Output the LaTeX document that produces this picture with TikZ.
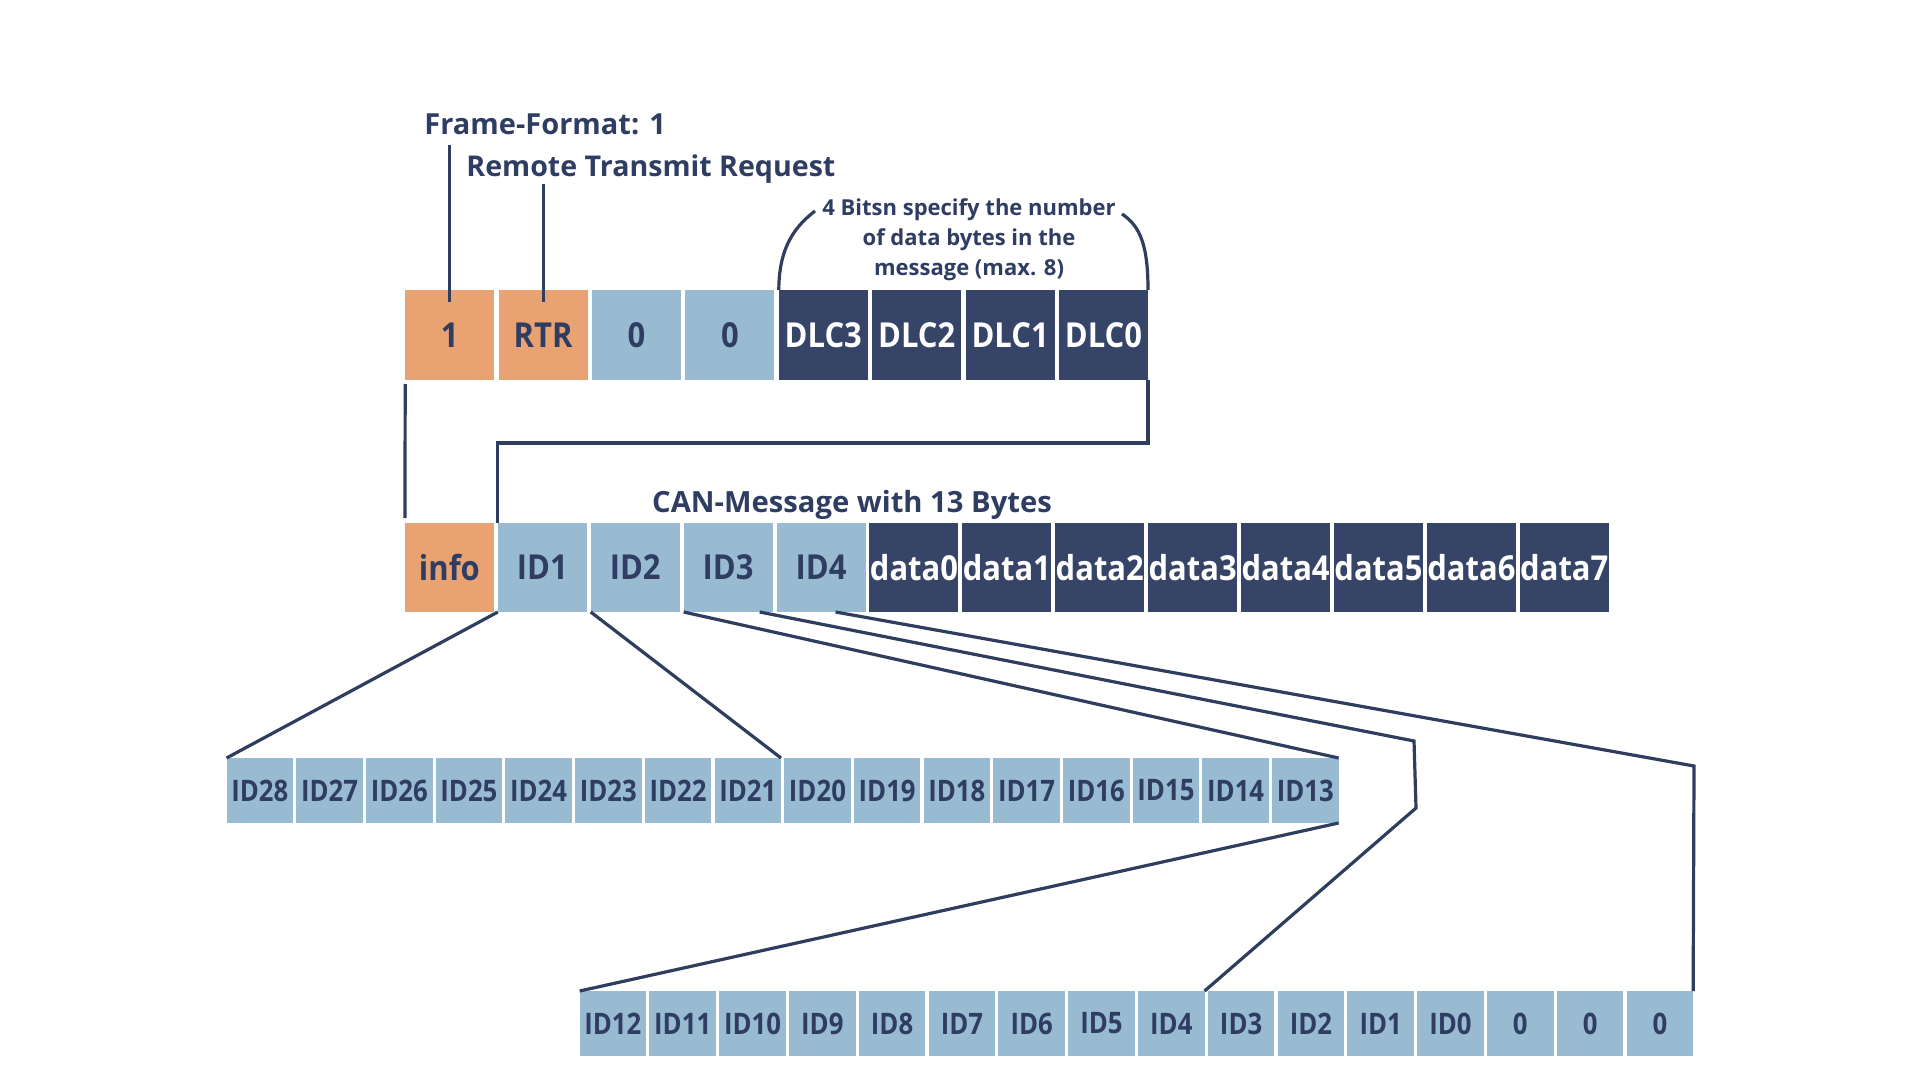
\documentclass[tikz,border=0pt]{standalone}
\usepackage{fontspec}
\setmainfont{Open Sans}
\newfontfamily\lblfont{Open Sans}[FakeStretch=0.9]
\newfontfamily\smlfont{Open Sans}[FakeStretch=0.87]
\usetikzlibrary{calc}
\definecolor{orng}{HTML}{E9A271}
\definecolor{lblue}{HTML}{98BBD2}
\definecolor{navy}{HTML}{364468}
\definecolor{txt}{HTML}{2F3D62}
\definecolor{linec}{HTML}{2F3D5F}
\begin{document}
\begin{tikzpicture}[x=0.5pt,y=-0.5pt,
  conn/.style={draw=linec, line width=1.6pt, line join=miter},
  cell/.style={inner sep=0pt, outer sep=0pt},
  bigcell/.style={cell, minimum width=44.5pt, font=\lblfont\bfseries\fontsize{17.2}{19}\selectfont},
  smallcell/.style={cell, minimum width=33.25pt, minimum height=32.5pt, font=\smlfont\bfseries\fontsize{14.8}{16}\selectfont},
  orangecell/.style={fill=orng, text=txt},
  bluecell/.style={fill=lblue, text=txt},
  navycell/.style={fill=navy, text=white},
  head/.style={inner sep=0pt, text=txt, font=\bfseries\fontsize{14.5}{17}\selectfont}
]
\useasboundingbox (0,0) rectangle (1920,1080);
\fill[white] (0,0) rectangle (1920,1080);

% annotations
\node[head, anchor=base west] (ff) at (424,135) {Frame-Format: 1};
\node[head, anchor=base west, font=\bfseries\fontsize{14.3}{17}\selectfont] (rtr) at (466,177) {Remote Transmit Request};
\node[inner sep=0pt, text=txt, align=center, anchor=north,
      font=\bfseries\fontsize{11}{15}\selectfont] (note) at (969,198)
      {4 Bitsn specify the number\\of data bytes in the\\message (max. 8)};
\node[head, anchor=base, font=\bfseries\fontsize{14.6}{16}\selectfont] (can) at (852,512) {CAN-Message with 13 Bytes};

% row 1
\foreach \i/\s/\t in {1/orangecell/1, 2/orangecell/RTR, 3/bluecell/0, 4/bluecell/0,
                       5/navycell/DLC3, 6/navycell/DLC2, 7/navycell/DLC1, 8/navycell/DLC0}
  \node[bigcell, \s, minimum height=45pt] (t\i) at ({403+(\i-0.5)*93.4}, 335) {\t};

% row 2
\foreach \i/\s/\t in {1/orangecell/info, 2/bluecell/ID1, 3/bluecell/ID2, 4/bluecell/ID3, 5/bluecell/ID4,
                       6/navycell/data0, 7/navycell/data1, 8/navycell/data2, 9/navycell/data3,
                       10/navycell/data4, 11/navycell/data5, 12/navycell/data6, 13/navycell/data7}
  \node[bigcell, \s, minimum height=44.5pt] (m\i) at ({403+(\i-0.5)*92.9}, 567.5) {\t};

% row 3
\foreach \i/\t in {1/ID28, 2/ID27, 3/ID26, 4/ID25, 5/ID24, 6/ID23, 7/ID22, 8/ID21,
                   9/ID20, 10/ID19, 11/ID18, 12/ID17, 13/ID16, 14/ID15, 15/ID14, 16/ID13}
  \node[smallcell, bluecell] (a\i) at ({225+(\i-0.5)*69.7}, 790.5) {\t};

% row 4
\foreach \i/\t in {1/ID12, 2/ID11, 3/ID10, 4/ID9, 5/ID8, 6/ID7, 7/ID6, 8/ID5,
                   9/ID4, 10/ID3, 11/ID2, 12/ID1, 13/ID0, 14/0, 15/0, 16/0}
  \node[smallcell, bluecell] (b\i) at ({578+(\i-0.5)*69.8}, 1023.5) {\t};

% connectors top
\draw[conn] ($(ff.south -| t1.north)+(0,9)$) -- ($(t1.north)+(0,12)$);
\draw[conn] (rtr.south -| t2.north) -- ($(t2.north)+(0,12)$);
\coordinate (nl) at ($(note.north west)+(-7,13)$);
\coordinate (nr) at ($(note.north east)+(6,16)$);
\draw[conn] (t5.north west) .. controls ($(t5.north west)+(0,-45)$) and ($(nl)+(-18,14)$) .. (nl);
\draw[conn] (nr) .. controls ($(nr)+(18,12)$) and ($(t8.north east)+(0,-45)$) .. (t8.north east);

\draw[conn] ([yshift=-2pt]t1.south west) -- ([yshift=2.5pt]m1.north west);
\draw[conn] (t8.south east) -- ++(0,63) -| (m2.north west);

% row 2 -> row 3/4
\coordinate (k1) at (1414,741);
\coordinate (k2) at (1416,808);
\coordinate (k3) at (1694,766);
\draw[conn] (m2.south west) -- (a1.north west);
\draw[conn] (m3.south west) -- (a8.north east);
\draw[conn] (m4.south west) -- (a16.north east);
\draw[conn] ($(m4.south east)+(-13,0)$) -- (k1) -- (k2) -- (b9.north east);
\draw[conn] ($(m5.south east)+(-30,0)$) -- (k3) -- (b16.north east);
\draw[conn] (a16.south east) -- (b1.north west);
\end{tikzpicture}
\end{document}
